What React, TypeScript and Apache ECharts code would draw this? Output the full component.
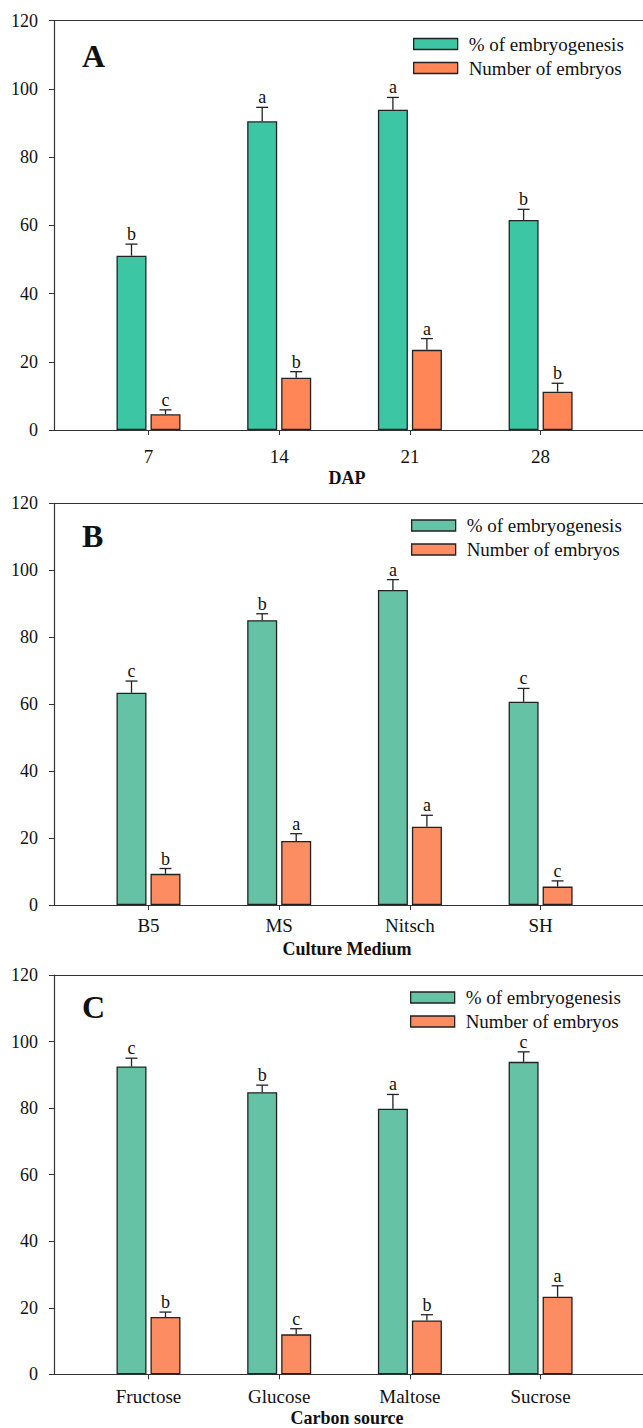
import React, { useEffect, useRef } from "react";
import * as echarts from "echarts";

// ---------- data ----------
const catsA = ["7", "14", "21", "28"];
const embA = [51.1, 90.5, 93.9, 61.6];
const embErrA = [3.4, 4.1, 3.6, 3.1];
const embLetA = ["b", "a", "a", "b"];
const numA = [4.6, 15.3, 23.5, 11.2];
const numErrA = [1.3, 1.8, 3.3, 2.5];
const numLetA = ["c", "b", "a", "b"];

const catsB = ["B5", "MS", "Nitsch", "SH"];
const embB = [63.4, 85.1, 94.1, 60.7];
const embErrB = [3.5, 1.9, 3.1, 4.0];
const embLetB = ["c", "b", "a", "c"];
const numB = [9.3, 19.1, 23.4, 5.5];
const numErrB = [1.6, 2.2, 3.4, 1.7];
const numLetB = ["b", "a", "a", "c"];

const catsC = ["Fructose", "Glucose", "Maltose", "Sucrose"];
const embC = [92.5, 84.8, 79.8, 93.9];
const embErrC = [2.5, 2.1, 4.3, 3.0];
const embLetC = ["c", "b", "a", "c"];
const numC = [17.2, 12.0, 16.2, 23.3];
const numErrC = [1.5, 1.7, 1.7, 3.3];
const numLetC = ["b", "c", "b", "a"];

const yTicks = [0, 20, 40, 60, 80, 100, 120];
const SERIES_EMB = "% of embryogenesis";
const SERIES_NUM = "Number of embryos";

// ---------- layout / style ----------
const FONT = "Liberation Serif";
const AXIS_COLOR = "#333";
const CHART_W = 643;
const GRID_LEFT = 54;
const GRID_WIDTH = CHART_W - GRID_LEFT;
const PX_PER_CAT = 130.7;
const FIRST_CENTER = 148.5;
const X_MIN = 1 - (FIRST_CENTER - GRID_LEFT) / PX_PER_CAT;
const X_MAX = X_MIN + GRID_WIDTH / PX_PER_CAT;
const BAR_W = 30;
const BAR_GAP_PX = 4;
const HALF_OFF = (BAR_W + BAR_GAP_PX) / 2;

const panels = [
  {
    cats: catsA, emb: embA, embErr: embErrA, embLet: embLetA,
    num: numA, numErr: numErrA, numLet: numLetA,
    top: 20.7, height: 409.3, colors: ["#3cc6a3", "#ff8656"],
    legendTop: 34.5, legendLeft: 413, label: "A", labelY: 57, name: "DAP", nameY: 478, xMargin: 17,
  },
  {
    cats: catsB, emb: embB, embErr: embErrB, embLet: embLetB,
    num: numB, numErr: numErrB, numLet: numLetB,
    top: 503.3, height: 401.7, colors: ["#66c2a5", "#fc8d62"],
    legendTop: 516, legendLeft: 411, label: "B", labelY: 537, name: "Culture Medium", nameY: 949, xMargin: 11,
  },
  {
    cats: catsC, emb: embC, embErr: embErrC, embLet: embLetC,
    num: numC, numErr: numErrC, numLet: numLetC,
    top: 975, height: 399.3, colors: ["#66c2a5", "#fc8d62"],
    legendTop: 988, legendLeft: 410, label: "C", labelY: 1008, name: "Carbon source", nameY: 1418, xMargin: 13,
  },
];

function errSeries(gi: number, vals: number[], errs: number[], letters: string[], offset: number) {
  return {
    type: "custom",
    name: "err" + gi + "_" + offset,
    xAxisIndex: gi,
    yAxisIndex: gi,
    silent: true,
    z: 5,
    data: vals.map((v, i) => [i + 1, v, errs[i]]),
    renderItem: (params: any, api: any) => {
      const x = api.value(0);
      const y = api.value(1);
      const e = api.value(2);
      const base = api.coord([x, y]);
      const top = api.coord([x, y + e]);
      const cx = base[0] + offset;
      return {
        type: "group",
        children: [
          { type: "line", shape: { x1: cx, y1: base[1], x2: cx, y2: top[1] }, style: { stroke: "#222", lineWidth: 1.3 } },
          { type: "line", shape: { x1: cx - 6, y1: top[1], x2: cx + 6, y2: top[1] }, style: { stroke: "#222", lineWidth: 1.3 } },
          {
            type: "text",
            x: cx,
            y: top[1] - 1,
            style: {
              text: letters[params.dataIndex],
              fontSize: 18,
              fontFamily: FONT,
              fill: "#111",
              align: "center",
              verticalAlign: "bottom",
            },
          },
        ],
      };
    },
  };
}

export default function App() {
  const ref = useRef<HTMLDivElement>(null);
  useEffect(() => {
    if (!ref.current) return;
    const chart = echarts.init(ref.current, undefined, { renderer: "svg" });

    const grid: any[] = [];
    const xAxis: any[] = [];
    const yAxis: any[] = [];
    const series: any[] = [];
    const legend: any[] = [];
    const graphic: any[] = [];

    panels.forEach((p, gi) => {
      grid.push({ left: GRID_LEFT, top: p.top, width: GRID_WIDTH, height: p.height, show: false });
      xAxis.push({
        type: "value", gridIndex: gi, min: X_MIN, max: X_MAX, position: "bottom",
        splitLine: { show: false },
        axisLine: { show: true, onZero: false, lineStyle: { color: AXIS_COLOR, width: 1.2 } },
        axisTick: { show: true, inside: false, length: 5, customValues: [1, 2, 3, 4], lineStyle: { color: AXIS_COLOR } },
        axisLabel: {
          show: true, customValues: [1, 2, 3, 4], margin: p.xMargin,
          formatter: (v: number) => p.cats[Math.round(v) - 1] ?? "",
          fontSize: 19, fontFamily: FONT, color: "#111",
        },
      });
      yAxis.push({
        type: "value", gridIndex: gi, min: 0, max: 120, interval: 20,
        splitLine: { show: false },
        axisLine: { show: true, lineStyle: { color: AXIS_COLOR, width: 1.2 } },
        axisTick: { show: true, inside: false, length: 5, lineStyle: { color: AXIS_COLOR } },
        axisLabel: {
          margin: 16, fontSize: 18, fontFamily: FONT, color: "#111",
          formatter: (v: number) => (yTicks.includes(v) ? String(v) : ""),
        },
      });
      series.push({
        type: "bar", name: SERIES_EMB, xAxisIndex: gi, yAxisIndex: gi,
        barWidth: BAR_W, barGap: (BAR_GAP_PX / BAR_W) * 100 + "%",
        itemStyle: { color: p.colors[0], borderColor: "#222", borderWidth: 1.3 },
        data: p.emb.map((v, i) => [i + 1, v]),
      });
      series.push({
        type: "bar", name: SERIES_NUM, xAxisIndex: gi, yAxisIndex: gi,
        barWidth: BAR_W, barGap: (BAR_GAP_PX / BAR_W) * 100 + "%",
        itemStyle: { color: p.colors[1], borderColor: "#222", borderWidth: 1.3 },
        data: p.num.map((v, i) => [i + 1, v]),
      });
      series.push(errSeries(gi, p.emb, p.embErr, p.embLet, -HALF_OFF));
      series.push(errSeries(gi, p.num, p.numErr, p.numLet, HALF_OFF));

      legend.push({
        orient: "vertical", left: p.legendLeft, top: p.legendTop, padding: 0,
        itemWidth: 44, itemHeight: 11, itemGap: 5, icon: "rect", selectedMode: false,
        textStyle: { fontSize: 19, fontFamily: FONT, color: "#111", padding: [0, 0, 0, 6], lineHeight: 18 },
        data: [
          { name: SERIES_EMB, itemStyle: { color: p.colors[0], borderColor: "#222", borderWidth: 1.3 } },
          { name: SERIES_NUM, itemStyle: { color: p.colors[1], borderColor: "#222", borderWidth: 1.3 } },
        ],
      });

      graphic.push({
        type: "text", left: 82, top: p.labelY - 17,
        style: { text: p.label, fontSize: 32, fontWeight: "bold", fontFamily: FONT, fill: "#111" },
      });
      graphic.push({
        type: "text", x: 347, y: p.nameY,
        style: {
          text: p.name, fontSize: 18, fontWeight: "bold", fontFamily: FONT, fill: "#111",
          align: "center", verticalAlign: "middle",
        },
      });
    });

    // top frame lines (axis lines of a top x axis per grid)
    panels.forEach((p, gi) => {
      xAxis.push({
        type: "value", gridIndex: gi, min: X_MIN, max: X_MAX, position: "top",
        splitLine: { show: false },
        axisLine: { show: true, onZero: false, lineStyle: { color: AXIS_COLOR, width: 1.2 } },
        axisTick: { show: false },
        axisLabel: { show: false },
      });
    });

    chart.setOption({
      animation: false,
      backgroundColor: "#fff",
      grid, xAxis, yAxis, series, legend, graphic,
    });
    return () => chart.dispose();
  }, []);

  return (
    <div
      ref={ref}
      style={{ position: "fixed", left: 0, top: 0, width: CHART_W, height: 1428, background: "#fff" }}
    />
  );
}
